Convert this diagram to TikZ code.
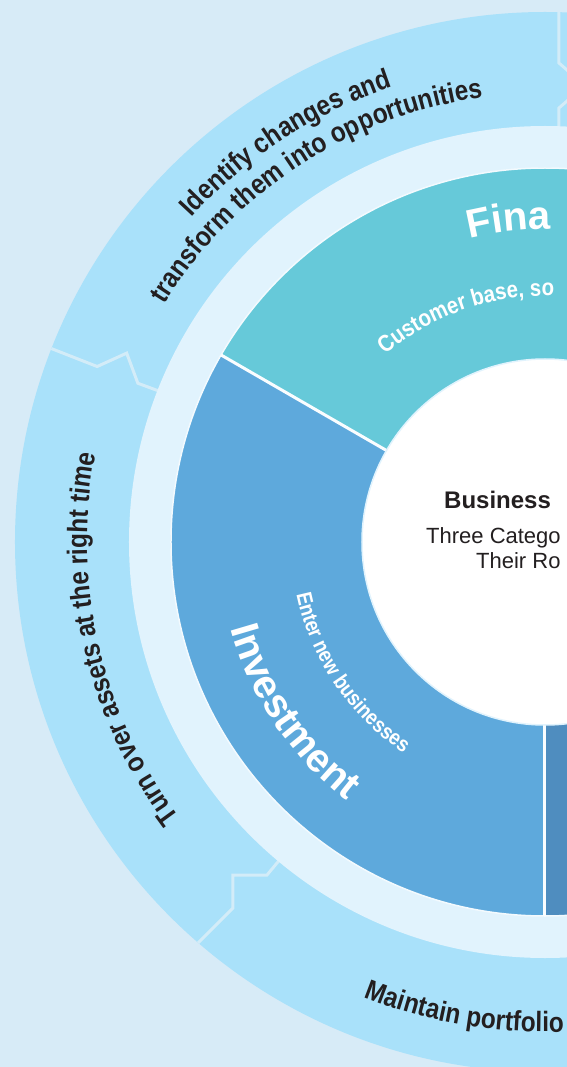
\documentclass[tikz,border=0pt]{standalone}
\usepackage{fontspec}
\setmainfont{Liberation Sans}
\newfontfamily\narrowfont[FakeStretch=0.87]{Liberation Sans}
\usetikzlibrary{decorations.text}
\definecolor{bgblue}{HTML}{D7EBF7}
\definecolor{ringblue}{HTML}{A9E1FA}
\definecolor{paleblue}{HTML}{E1F3FD}
\definecolor{tealseg}{HTML}{66C9D9}
\definecolor{investblue}{HTML}{5EA9DC}
\definecolor{darkseg}{HTML}{4F8DBF}
\definecolor{seamline}{HTML}{D3ECF8}
\definecolor{inkblack}{HTML}{231F20}
\newcommand{\outerfont}{\narrowfont\bfseries\fontsize{28bp}{32bp}\selectfont\color{inkblack}}
\newcommand{\bigsegfont}{\bfseries\fontsize{40bp}{44bp}\selectfont\color{white}}
\newcommand{\smallsegfont}{\narrowfont\bfseries\fontsize{23.5bp}{27bp}\selectfont\color{white}}
\newcommand{\entersegfont}{\narrowfont\bfseries\fontsize{21.5bp}{25bp}\selectfont\color{white}}
\tikzset{
  ringtext/.style={decorate, decoration={text along path, text align=center}},
  ringtextleft/.style={decorate, decoration={text along path, text align=left}},
  seam/.style={seamline, line width=3bp, line join=miter},
  gapline/.style={white!85!paleblue, line width=3bp},
  coretext/.style={anchor=base west, inner sep=0, text=inkblack},
}
\begin{document}
\begin{tikzpicture}[x=1bp, y=1bp]
  \def\outerR{530}
  \def\paleR{416}
  \def\segR{374}
  \def\coreR{183}
  \useasboundingbox (-545,-525) rectangle (22,542);
  \clip (-545,-525) rectangle (22,542);
  \fill[bgblue] (-545,-525) rectangle (22,542);
  \fill[ringblue] (0,0) circle[radius=\outerR];
  \begin{scope}
    \clip (0,0) circle[radius=\outerR];
    \draw[seam] (158.6:545) -- (158.6:481) -- (155.7:459) -- (158.7:437) -- (158.6:400);
    \draw[seam] (-356,-410) -- (-312,-366) -- (-312,-333) -- (-278,-333) -- (-258,-309);
    \draw[seam] (14,545) -- (14,479) -- (30,465) -- (30,448) -- (14,434) -- (14,400);
  \end{scope}
  \fill[paleblue] (0,0) circle[radius=\paleR];
  \fill[tealseg] (0,0) -- (30:\segR) arc[start angle=30, end angle=150, radius=\segR] -- cycle;
  \fill[investblue] (0,0) -- (150:\segR) arc[start angle=150, end angle=270, radius=\segR] -- cycle;
  \fill[darkseg] (0,0) -- (270:\segR) arc[start angle=270, end angle=390, radius=\segR] -- cycle;
  \draw[white!60!paleblue, line width=1.5bp] (0,0) circle[radius=\segR];
  \draw[gapline] (150:\coreR) -- (150:\segR);
  \draw[gapline] (270:\coreR) -- (270:\segR);
  \fill[white] (0,0) circle[radius=\coreR];
  \draw[paleblue, line width=1.5bp] (0,0) circle[radius=\coreR];
  \path[ringtext, decoration={text={|\outerfont|Identify changes and}}]
    (163:480) arc[start angle=163, end angle=83, radius=480];
  \path[ringtext, decoration={text={|\outerfont|transform them into opportunities}}]
    (169:449) arc[start angle=169, end angle=77, radius=449];
  \path[ringtext, decoration={text={|\outerfont|Turn over assets at the right time}}]
    (240:458) arc[start angle=240, end angle=146, radius=458];
  \path[ringtextleft, decoration={text={|\outerfont|Maintain portfolio}}]
    (248.3:490) arc[start angle=248.3, end angle=300, radius=490];
  \path[ringtextleft, decoration={text={|\bigsegfont|Fina}}]
    (104:313) arc[start angle=104, end angle=60, radius=313];
  \path[ringtextleft, decoration={text={|\smallsegfont|Customer base, so}}]
    (130.5:246) arc[start angle=130.5, end angle=60, radius=246];
  \path[ringtext, decoration={text={|\bigsegfont|Investment}}]
    (175:326) arc[start angle=175, end angle=253, radius=326];
  \path[ringtext, decoration={text={|\entersegfont|Enter new businesses}}]
    (175:254) arc[start angle=175, end angle=253, radius=254];
  \node[coretext, font=\bfseries\fontsize{24bp}{28bp}\selectfont] (business) at (-101,34) {Business};
  \node[coretext, font=\fontsize{22bp}{26bp}\selectfont] (threecat) at (-119,-1) {Three Catego};
  \node[coretext, font=\fontsize{22bp}{26bp}\selectfont] (theirro) at (-69,-26) {Their Ro};
\end{tikzpicture}
\end{document}
